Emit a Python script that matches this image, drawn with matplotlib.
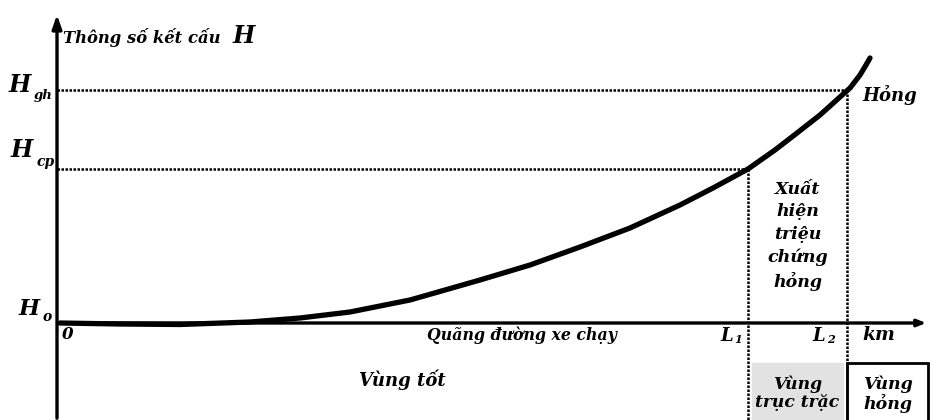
import matplotlib.pyplot as plt
from matplotlib.patches import Rectangle

# structural parameter H vs distance travelled (units: 100 px of the original sketch)
km = [0.03, 0.63, 1.23, 1.93, 2.43, 2.93, 3.53, 4.23, 4.73, 5.23, 5.73, 6.23,
      6.56, 6.91, 7.18, 7.40, 7.63, 7.83, 7.93, 8.03, 8.09, 8.13]
H = [0.0, -0.01, -0.015, 0.01, 0.05, 0.11, 0.23, 0.43, 0.58, 0.76, 0.95, 1.18,
     1.35, 1.54, 1.73, 1.90, 2.08, 2.26, 2.35, 2.48, 2.58, 2.65]

H_cp = 1.54
H_gh = 2.33
L1 = 6.91
L2 = 7.90

plt.rcParams['font.family'] = ['DejaVu Serif', 'Liberation Serif']
fnt = dict(fontweight='bold', fontstyle='italic', color='black')

fig = plt.figure(figsize=(9.3, 4.2), dpi=100)
ax = fig.add_axes([0, 0, 1, 1])
ax.set_xlim(-0.57, 8.73)
ax.set_ylim(-0.97, 3.23)
ax.axis('off')

# axes with arrows
ax.annotate('', xy=(0, 3.11), xytext=(0, -0.98),
            arrowprops=dict(arrowstyle='-|>,head_length=0.8,head_width=0.28', lw=2.4, color='black'))
ax.annotate('', xy=(8.72, 0), xytext=(0, 0),
            arrowprops=dict(arrowstyle='-|>,head_length=0.5,head_width=0.2', lw=2.4, color='black'))

# dotted guide lines
dot = dict(color='black', lw=1.8, linestyle=(0, (1, 0.6)))
ax.plot([0, L1], [H_cp, H_cp], **dot)
ax.plot([0, L2], [H_gh, H_gh], **dot)
ax.plot([L1, L1], [H_cp, -0.98], **dot)
ax.plot([L2, L2], [H_gh, -0.98], **dot)

# main curve
ax.plot(km, H, color='black', lw=3.8, solid_capstyle='round', solid_joinstyle='round')

# title of the y axis
ax.text(0.06, 2.80, 'Thông số kết cấu', fontsize=11.8, va='baseline', **fnt)
ax.text(1.76, 2.80, 'H', fontsize=17, va='baseline', **fnt)

# levels
ax.text(-0.48, 2.31, 'H', fontsize=17, va='baseline', **fnt)
ax.text(-0.23, 2.24, 'gh', fontsize=9.5, va='baseline', **fnt)
ax.text(-0.46, 1.66, 'H', fontsize=17, va='baseline', **fnt)
ax.text(-0.20, 1.57, 'cp', fontsize=10, va='baseline', **fnt)
ax.text(-0.38, 0.08, 'H', fontsize=16, va='baseline', **fnt)
ax.text(-0.14, 0.02, 'o', fontsize=10, va='baseline', **fnt)

# labels along the x axis
ax.text(0.05, -0.03, '0', fontsize=12, va='top', **fnt)
ax.text(3.70, -0.03, 'Quãng đường xe chạy', fontsize=11.3, va='top', **fnt)
ax.text(L1 - 0.28, -0.04, 'L', fontsize=13, va='top', **fnt)
ax.text(L1 - 0.14, -0.11, '1', fontsize=8, va='top', **fnt)
ax.text(L2 - 0.35, -0.04, 'L', fontsize=13, va='top', **fnt)
ax.text(L2 - 0.20, -0.11, '2', fontsize=8, va='top', **fnt)
ax.text(8.05, -0.03, 'km', fontsize=13.5, va='top', **fnt)

# zone annotations
ax.text(8.05, 2.28, 'Hỏng', fontsize=13, va='center', **fnt)
ax.text((L1 + L2) / 2, 0.87, 'Xuất\nhiện\ntriệu\nchứng\nhỏng', fontsize=12.5,
        ha='center', va='center', linespacing=1.42, **fnt)
ax.text(3.45, -0.57, 'Vùng tốt', fontsize=13, ha='center', va='center', **fnt)
ax.add_patch(Rectangle((L1 + 0.04, -0.98), L2 - L1 - 0.08, 0.58, color='#e2e2e2', zorder=0))
ax.text((L1 + L2) / 2, -0.70, 'Vùng\ntrục trặc', fontsize=12.3, ha='center', va='center',
        linespacing=1.05, **fnt)
ax.add_patch(Rectangle((L2, -0.99), 0.81, 0.59, fill=False, lw=2, ec='black'))
ax.text(L2 + 0.405, -0.71, 'Vùng\nhỏng', fontsize=12.5, ha='center', va='center',
        linespacing=1.05, **fnt)

fig.savefig('out.png', dpi=100)
